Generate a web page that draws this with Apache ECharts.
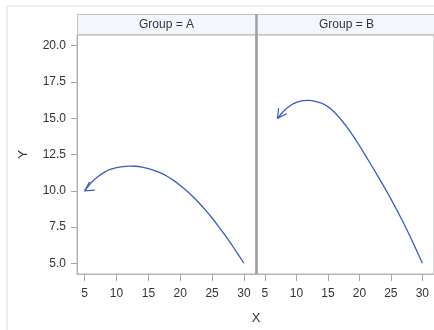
<!DOCTYPE html>
<html>
<head>
<meta charset="utf-8">
<script src="https://cdn.jsdelivr.net/npm/echarts@6/dist/echarts.min.js"></script>
<style>
html,body{margin:0;padding:0;background:#fff;}
#c{width:434px;height:330px;}
</style>
</head>
<body>
<div id="c"></div>
<script>
// ---- data ----
var groups = ['Group = A', 'Group = B'];
var xA = [5,6,7,8,9,10,11,12,13,14,15,16,17,18,19,20,21,22,23,24,25,26,27,28,29,30];
var yA = [10.0,10.55,10.95,11.25,11.47,11.6,11.67,11.7,11.69,11.63,11.53,11.39,11.21,10.98,10.7,10.37,10.0,9.59,9.14,8.65,8.12,7.55,6.96,6.33,5.67,5.0];
var xB = [7,8,9,10,11,12,13,14,15,16,17,18,19,20,21,22,23,24,25,26,27,28,29,30];
var yB = [15.0,15.5,15.86,16.09,16.21,16.23,16.17,16.04,15.8,15.43,14.95,14.4,13.79,13.12,12.41,11.69,10.96,10.22,9.44,8.63,7.79,6.9,5.97,5.0];
var xTicks = [5,10,15,20,25,30];
var yTicks = [5,7.5,10,12.5,15,17.5,20];

var lineColor = '#3b5cc0';
var axisColor = '#b4b4b4';
var tickColor = '#a6a6a6';
var textColor = '#333333';
var font = 'Liberation Sans, Arial, sans-serif';

function buildData(xs, ys, rot) {
  var d = [];
  for (var i = 0; i < xs.length; i++) {
    if (i === 0) {
      d.push({
        value: [xs[i], ys[i]],
        symbol: 'path://M0,10 L5,0 L10,10 M5,-10',
        symbolSize: [10, 18],
        symbolRotate: rot,
        itemStyle: {color: 'rgba(0,0,0,0)', borderColor: lineColor, borderWidth: 1.3}
      });
    } else {
      d.push([xs[i], ys[i]]);
    }
  }
  return d;
}

var chart = echarts.init(document.getElementById('c'), null, {renderer: 'canvas'});

var gridTop = 35, gridH = 239;
var gridA = {left: 77, top: gridTop, width: 178.7, height: gridH, show: true, borderColor: axisColor, borderWidth: 1, backgroundColor: '#fff'};
var gridB = {left: 257.3, top: gridTop, width: 178.7, height: gridH, show: true, borderColor: axisColor, borderWidth: 1, backgroundColor: '#fff'};

function xAxis(idx) {
  return {
    type: 'value', gridIndex: idx, min: 3.79, max: 31.85,
    axisLine: {show: true, lineStyle: {color: axisColor}},
    splitLine: {show: false},
    axisTick: {show: true, length: 7, lineStyle: {color: tickColor, width: 1}, customValues: xTicks},
    axisLabel: {customValues: xTicks, color: textColor, fontSize: 12, fontFamily: font, margin: 14}
  };
}
function yAxis(idx, labels) {
  return {
    type: 'value', gridIndex: idx, min: 4.26, max: 20.74,
    axisLine: {show: true, lineStyle: {color: axisColor}},
    splitLine: {show: false},
    axisTick: {show: labels, length: 6, lineStyle: {color: tickColor, width: 1}, customValues: yTicks},
    axisLabel: {show: labels, customValues: yTicks, color: textColor, fontSize: 12, fontFamily: font, margin: 11,
      formatter: function (v) { return v.toFixed(1); }},
    name: labels ? 'Y' : '', nameLocation: 'middle', nameGap: 47,
    nameTextStyle: {color: textColor, fontSize: 13, fontFamily: font}
  };
}

var option = {
  animation: false,
  backgroundColor: '#fff',
  grid: [gridA, gridB],
  xAxis: [xAxis(0), xAxis(1)],
  yAxis: [yAxis(0, true), yAxis(1, false)],
  graphic: [
    {type: 'rect', shape: {x: 7, y: 6, width: 440, height: 340}, style: {fill: 'none', stroke: '#dcdcdc', lineWidth: 1}, silent: true, z: -10},
    {type: 'rect', shape: {x: 77.5, y: 14.5, width: 178.5, height: 20}, style: {fill: '#f3f6fd', stroke: '#c4c4c4', lineWidth: 1}, silent: true},
    {type: 'rect', shape: {x: 257.5, y: 14.5, width: 190, height: 20}, style: {fill: '#f3f6fd', stroke: '#c4c4c4', lineWidth: 1}, silent: true},
    {type: 'text', x: 166.5, y: 24.5, style: {text: groups[0], fill: textColor, font: '12px ' + font, textAlign: 'center', textVerticalAlign: 'middle'}, silent: true},
    {type: 'text', x: 346.5, y: 24.5, style: {text: groups[1], fill: textColor, font: '12px ' + font, textAlign: 'center', textVerticalAlign: 'middle'}, silent: true},
    {type: 'line', shape: {x1: 256.3, y1: 14, x2: 256.3, y2: 274.5}, style: {stroke: '#a0a0a0', lineWidth: 2}, silent: true, z: 10},
    {type: 'text', x: 256, y: 318, style: {text: 'X', fill: textColor, font: '13px ' + font, textAlign: 'center', textVerticalAlign: 'middle'}, silent: true}
  ],
  series: [
    {type: 'line', xAxisIndex: 0, yAxisIndex: 0, data: buildData(xA, yA, 122), symbol: 'none', showAllSymbol: true, smooth: 0.2,
      lineStyle: {color: lineColor, width: 1.3}, itemStyle: {color: lineColor}, clip: false},
    {type: 'line', xAxisIndex: 1, yAxisIndex: 1, data: buildData(xB, yB, 145), symbol: 'none', showAllSymbol: true, smooth: 0.2,
      lineStyle: {color: lineColor, width: 1.3}, itemStyle: {color: lineColor}, clip: false}
  ]
};
chart.setOption(option);
</script>
</body>
</html>
